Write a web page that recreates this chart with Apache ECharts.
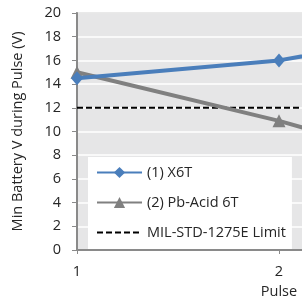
<!DOCTYPE html>
<html>
<head>
<meta charset="utf-8">
<script src="https://cdn.jsdelivr.net/npm/echarts@6/dist/echarts.min.js"></script>
<style>html,body{margin:0;padding:0;background:#fff}#c{width:302px;height:306px}</style>
</head>
<body>
<div id="c"></div>
<script>
var pulses = [1, 2, 3];
var x6t = [14.5, 16.0, 19.0];
var pbAcid = [15.0, 10.9, 6.0];
var limit = [12, 12, 12];
var seriesNames = ['(1) X6T', '(2) Pb-Acid 6T', 'MIL-STD-1275E Limit'];
var yTitle = 'Min Battery V during Pulse (V)';
var xTitle = 'Pulse';

function pairs(xs, ys) { return xs.map(function (x, i) { return [x, ys[i]]; }); }

var font = '"Open Sans", "Noto Sans", sans-serif';
var fs = 14.5;
var chart = echarts.init(document.getElementById('c'), null, {renderer: 'canvas'});
chart.setOption({
  animation: false,
  textStyle: {fontFamily: font},
  grid: {left: 77, top: 13, height: 237, width: 404, show: true, outerBoundsMode: 'none', containLabel: false,
         backgroundColor: '#e6e6e7', borderColor: '#8a8a8a', borderWidth: 1.5},
  xAxis: {
    type: 'value', min: 1, max: 3, interval: 1,
    name: xTitle, nameLocation: 'middle', nameGap: 31,
    nameTextStyle: {fontSize: fs, color: '#262626', fontFamily: font},
    axisLine: {show: true, lineStyle: {color: '#8a8a8a', width: 2}},
    axisTick: {show: true, length: 4, lineStyle: {color: '#8a8a8a'}},
    axisLabel: {fontSize: fs, color: '#262626', margin: 14, fontFamily: font},
    splitLine: {show: false}
  },
  yAxis: {
    type: 'value', min: 0, max: 20, interval: 2,
    name: yTitle, nameLocation: 'middle', nameGap: 52,
    nameTextStyle: {fontSize: fs, color: '#262626', fontFamily: font},
    axisLine: {show: true, lineStyle: {color: '#8a8a8a', width: 2}},
    axisTick: {show: true, length: 5, lineStyle: {color: '#8a8a8a'}},
    axisLabel: {fontSize: fs, color: '#262626', margin: 16, fontFamily: font},
    splitLine: {show: true, lineStyle: {color: '#ffffff', width: 1.5}}
  },
  legend: {
    orient: 'vertical', left: 88, top: 157,
    backgroundColor: '#ffffff', padding: [8, 6, 9, 8],
    itemWidth: 45, itemHeight: 14, itemGap: 15,
    textStyle: {fontSize: fs, color: '#262626', fontFamily: font},
    data: [seriesNames[0], seriesNames[1], {name: seriesNames[2], itemStyle: {opacity: 0}}]
  },
  series: [
    {name: seriesNames[0], type: 'line', data: pairs(pulses, x6t),
     symbol: 'diamond', symbolSize: [12, 14],
     lineStyle: {color: '#4a7ebb', width: 4}, itemStyle: {color: '#4a7ebb'}, z: 3},
    {name: seriesNames[1], type: 'line', data: pairs(pulses, pbAcid),
     symbol: 'triangle', symbolSize: 13,
     lineStyle: {color: '#808080', width: 4}, itemStyle: {color: '#808080'}, z: 2},
    {name: seriesNames[2], type: 'line', data: pairs(pulses, limit),
     symbol: 'none', symbolSize: 0, showSymbol: false,
     lineStyle: {color: '#000000', width: 2, type: [6, 3]}, itemStyle: {color: '#000000'}, z: 1}
  ]
});
</script>
</body>
</html>
